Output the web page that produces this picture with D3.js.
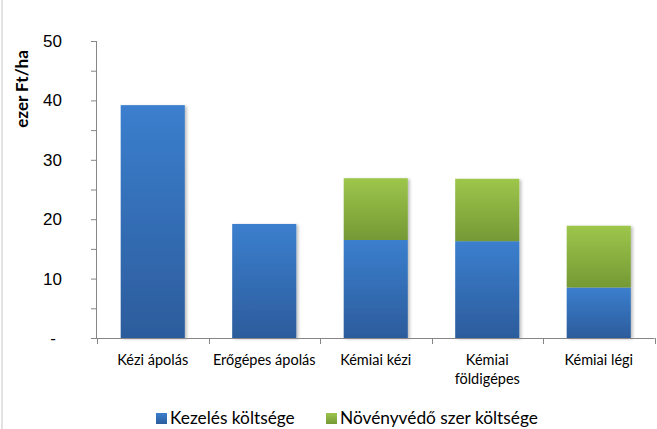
<!DOCTYPE html>
<html>
<head>
<meta charset="utf-8">
<script src="https://cdn.jsdelivr.net/npm/d3@7"></script>
<style>
  body { margin: 0; background: #fff; }
  svg { display: block; font-family: Lato, "Noto Sans", sans-serif; }
  .axis path, .axis line { stroke: #868686; }
  .axis text { fill: #000; }
</style>
</head>
<body>
<svg id="chart" width="657" height="429"></svg>
<script>
// chart data
var categories = ["Kézi ápolás", "Erőgépes ápolás", "Kémiai kézi", "Kémiai földigépes", "Kémiai légi"];
var kezeles = [39.2, 19.2, 16.5, 16.3, 8.5];
var novenyvedo = [0, 0, 10.4, 10.5, 10.4];
var seriesNames = ["Kezelés költsége", "Növényvédő szer költsége"];
var yTicks = [0, 10, 20, 30, 40, 50];
var yMinorTicks = [5, 15, 25, 35, 45];

var svg = d3.select("#chart"),
    W = 657, H = 429,
    margin = { top: 41, right: 2.5, bottom: 91, left: 97 };

var x = d3.scaleBand()
    .domain(categories)
    .range([margin.left, W - margin.right])
    .paddingInner(0.425)
    .paddingOuter(0.2125);

var y = d3.scaleLinear().domain([0, 50]).range([H - margin.bottom, margin.top]);

var rows = categories.map(function(c, i) {
    return { cat: c, a: kezeles[i], b: novenyvedo[i] };
});
var stacked = d3.stack().keys(["a", "b"])(rows);

// frame line on the left
svg.append("line")
    .attr("x1", 2).attr("x2", 2).attr("y1", 0).attr("y2", H)
    .attr("stroke", "#d9d9d9").attr("stroke-width", 1.5);

var defs = svg.append("defs");
var grads = [["#3b7fce", "#2c5c9c"], ["#9dc64b", "#759935"]];
grads.forEach(function(g, i) {
    var lg = defs.append("linearGradient").attr("id", "grad" + i)
        .attr("x1", 0).attr("y1", 0).attr("x2", 0).attr("y2", 1);
    lg.append("stop").attr("offset", "0%").attr("stop-color", g[0]);
    lg.append("stop").attr("offset", "100%").attr("stop-color", g[1]);
});
var shadow = defs.append("filter").attr("id", "shadow")
    .attr("x", "-10%").attr("y", "-10%").attr("width", "130%").attr("height", "120%");
shadow.append("feDropShadow").attr("dx", 2).attr("dy", 1).attr("stdDeviation", 1.5)
    .attr("flood-color", "#000").attr("flood-opacity", 0.25);

// bars
var layers = svg.append("g").attr("filter", "url(#shadow)")
    .selectAll("g").data(stacked).enter().append("g")
    .attr("fill", function(d, i) { return "url(#grad" + i + ")"; });

layers.selectAll("rect")
    .data(function(d) { return d.filter(function(p) { return p[1] - p[0] > 0; }); })
    .enter().append("rect")
    .attr("x", function(d) { return x(d.data.cat); })
    .attr("width", x.bandwidth())
    .attr("y", function(d) { return y(d[1]); })
    .attr("height", function(d) { return y(d[0]) - y(d[1]); });

// y axis
var yAxis = d3.axisLeft(y).tickValues(yTicks).tickSize(6).tickPadding(29)
    .tickFormat(function(d) { return d === 0 ? "-" : d; });
var gy = svg.append("g").attr("class", "axis")
    .attr("transform", "translate(" + margin.left + ",0)")
    .call(yAxis);
gy.select(".domain").attr("d", "M-0.5," + y(0) + "V" + y(50));
gy.selectAll("text").style("font-size", "17px");
gy.selectAll(".tick").filter(function(d) { return d === 0; }).select("text").attr("dx", -6);
gy.selectAll(".minor").data(yMinorTicks).enter().append("line")
    .attr("class", "minor")
    .attr("x1", -6).attr("x2", 0)
    .attr("y1", function(d) { return y(d) + 0.5; })
    .attr("y2", function(d) { return y(d) + 0.5; });

svg.append("text")
    .attr("transform", "translate(28," + 89 + ") rotate(-90)")
    .attr("text-anchor", "middle")
    .style("font-size", "17px").style("font-weight", "bold")
    .text("ezer Ft/ha");

// x axis with tick marks between categories
var step = x.step(), half = step * x.paddingInner() / 2;
var gx = svg.append("g").attr("class", "axis");
gx.append("line")
    .attr("x1", margin.left).attr("x2", W - margin.right)
    .attr("y1", y(0) + 0.5).attr("y2", y(0) + 0.5);
var bounds = categories.map(function(c) { return x(c) - half; }).concat([x(categories[categories.length - 1]) + x.bandwidth() + half]);
gx.selectAll(".tk").data(bounds).enter().append("line")
    .attr("x1", function(d) { return Math.round(d) + 0.5; })
    .attr("x2", function(d) { return Math.round(d) + 0.5; })
    .attr("y1", y(0)).attr("y2", y(0) + 6);

var labelLines = { "Kémiai földigépes": ["Kémiai", "földigépes"] };
gx.selectAll(".lbl").data(categories).enter().append("text")
    .attr("text-anchor", "middle")
    .style("font-size", "14.5px")
    .attr("x", function(d) { return x(d) + x.bandwidth() / 2; })
    .attr("y", y(0) + 27)
    .each(function(d) {
        var lines = labelLines[d] || [d];
        var t = d3.select(this);
        lines.forEach(function(l, i) {
            t.append("tspan").attr("x", x(d) + x.bandwidth() / 2).attr("dy", i ? 19 : 0).text(l);
        });
    });

// legend (kept just inside the bottom edge)
var legend = svg.append("g").attr("transform", "translate(156,413)");
var offs = [0, 170];
seriesNames.forEach(function(n, i) {
    var g = legend.append("g").attr("transform", "translate(" + offs[i] + ",0)");
    g.append("rect").attr("width", 11).attr("height", 11).attr("fill", "url(#grad" + i + ")");
    g.append("text").attr("x", 14).attr("y", 11).style("font-size", "17.3px").text(n);
});
</script>
</body>
</html>
